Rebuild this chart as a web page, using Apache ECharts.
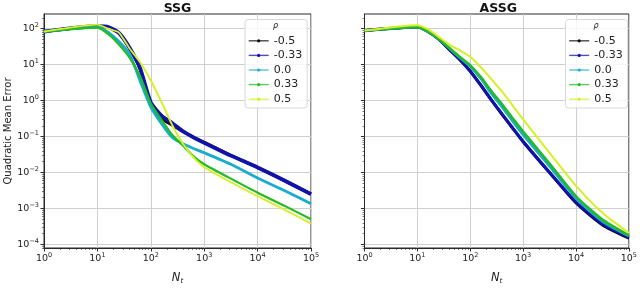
<!DOCTYPE html>
<html>
<head>
<meta charset="utf-8">
<script src="https://cdn.jsdelivr.net/npm/echarts@6/dist/echarts.min.js"></script>
<style>
html,body{margin:0;padding:0;background:#fff;}
#chart{width:640px;height:290px;}
</style>
</head>
<body>
<div id="chart"></div>
<script>
// ---- data ----
const panelTitles = ['SSG', 'ASSG'];
const rhoLabels = ['-0.5', '-0.33', '0.0', '0.33', '0.5'];
const colors = ['#0a0a0a', '#1212aa', '#1aaccc', '#22bb22', '#d6f022'];
const Nt = [1, 10, 16, 25, 40, 63, 100, 160, 250, 400, 630, 1000, 3160, 10000, 31600, 100000];
const xTicks = [1, 10, 100, 1000, 10000, 100000];
const yTicks = [1e-4, 1e-3, 1e-2, 1e-1, 1, 10, 100];

// SSG
const ssg_m050 = [83.2, 117.5, 107, 75.9, 28.2, 7.59, 0.794, 0.316, 0.209, 0.138, 0.0955, 0.0692, 0.0302, 0.0138, 0.00603, 0.00251];
const ssg_m033 = [83.2, 117.5, 112, 77.6, 29.5, 7.94, 0.891, 0.380, 0.240, 0.141, 0.0955, 0.0676, 0.0295, 0.0138, 0.00603, 0.00251];
const ssg_p000 = [83.2, 112, 79.4, 44.7, 20.0, 3.55, 0.661, 0.224, 0.0955, 0.0631, 0.0468, 0.0355, 0.0170, 0.00708, 0.00316, 0.00135];
const ssg_p033 = [83.2, 107, 70.8, 37.2, 15.8, 4.79, 0.832, 0.288, 0.112, 0.0562, 0.0282, 0.0170, 0.00676, 0.00275, 0.00120, 0.000501];
const ssg_p050 = [83.2, 130, 100, 79.4, 28.2, 11.7, 3.63, 0.891, 0.214, 0.0631, 0.0263, 0.0141, 0.00537, 0.00219, 0.000933, 0.000380];

// ASSG
const assg_m050 = [89.1, 112, 83.2, 52.5, 26.9, 14.1, 6.61, 2.63, 1.05, 0.417, 0.174, 0.0724, 0.0100, 0.00141, 0.000347, 0.000148];
const assg_m033 = [89.1, 112, 83.2, 52.5, 26.9, 14.1, 6.61, 2.63, 1.05, 0.417, 0.174, 0.0724, 0.0100, 0.00151, 0.000372, 0.000158];
const assg_p000 = [89.1, 112, 83.2, 53.7, 28.8, 15.8, 8.91, 3.98, 1.58, 0.661, 0.269, 0.112, 0.0148, 0.00191, 0.000437, 0.000170];
const assg_p033 = [89.1, 112, 83.2, 53.7, 29.5, 16.6, 9.55, 4.47, 1.86, 0.794, 0.331, 0.138, 0.0178, 0.00219, 0.000490, 0.000178];
const assg_p050 = [89.1, 126, 95.5, 60.3, 36.3, 25.1, 16.6, 8.32, 3.98, 1.78, 0.741, 0.302, 0.0355, 0.00427, 0.000759, 0.000209];

const panels = [
  [ssg_m050, ssg_m033, ssg_p000, ssg_p033, ssg_p050],
  [assg_m050, assg_m033, assg_p000, assg_p033, assg_p050]
];

// ---- layout / style ----
const FONT = 'DejaVu Sans';
const Y_MIN = 7.96e-5, Y_MAX = 257;
const gridsPos = [{left: 44, top: 14, width: 267, height: 243}, {left: 364.5, top: 14, width: 267.5, height: 243}];
const widths = [[3.0, 3.8, 2.8, 2.2, 1.9], [2.8, 3.2, 2.6, 2.5, 2.0]];
const AX = '#2a2a2a';

function supLabel(v) {
  const e = Math.log10(v);
  const r = Math.round(e);
  if (Math.abs(e - r) > 0.01) return '';
  return '{b|10}{s|' + String(r).replace('-', '\u2212') + '}';
}
const richLab = {
  b: {fontSize: 9.5, fontFamily: FONT, color: '#222', lineHeight: 13},
  s: {fontSize: 6.5, fontFamily: FONT, color: '#222', lineHeight: 8, verticalAlign: 'top'}
};

const grid = gridsPos.map(g => Object.assign({show: true, borderColor: AX, borderWidth: 1, backgroundColor: 'transparent'}, g));

const xAxis = gridsPos.map((g, i) => ({
  type: 'log', logBase: 10, gridIndex: i, min: xTicks[0], max: xTicks[xTicks.length - 1],
  axisLine: {show: true, lineStyle: {color: AX, width: 1}},
  axisTick: {show: true, length: 3.5, inside: false, lineStyle: {color: AX}},
  minorTick: {show: true, splitNumber: 9, length: 2, lineStyle: {color: AX, width: 0.6}},
  splitLine: {show: true, lineStyle: {color: '#cfcfcf', width: 1}},
  axisLabel: {margin: 4, formatter: supLabel, rich: richLab},
  name: '{n|N}{t|t}', nameLocation: 'middle', nameGap: 23,
  nameTextStyle: {rich: {
    n: {fontSize: 11.5, fontStyle: 'italic', fontFamily: FONT, color: '#222', lineHeight: 14},
    t: {fontSize: 7, fontStyle: 'italic', fontFamily: FONT, color: '#222', lineHeight: 6, verticalAlign: 'bottom'}
  }}
}));

const yAxis = gridsPos.map((g, i) => ({
  type: 'log', logBase: 10, gridIndex: i, min: Y_MIN, max: Y_MAX,
  axisLine: {show: true, lineStyle: {color: AX, width: 1}},
  axisTick: {show: true, length: 3.5, inside: false, lineStyle: {color: AX}, customValues: yTicks},
  minorTick: {show: true, splitNumber: 9, length: 2, lineStyle: {color: AX, width: 0.6}},
  splitLine: {show: true, lineStyle: {color: '#cfcfcf', width: 1}},
  axisLabel: {show: i === 0, margin: 5, formatter: supLabel, rich: richLab, customValues: yTicks},
  name: i === 0 ? 'Quadratic Mean Error' : '', nameLocation: 'middle', nameGap: 30,
  nameTextStyle: {fontSize: 10, fontFamily: FONT, color: '#222'}
}));

const series = [];
panels.forEach((vals, p) => {
  vals.forEach((arr, k) => {
    series.push({
      type: 'line', name: rhoLabels[k], xAxisIndex: p, yAxisIndex: p,
      data: Nt.map((n, j) => [n, arr[j]]),
      showSymbol: false, symbol: 'circle', symbolSize: 3, smooth: 0.2,
      color: colors[k],
      lineStyle: {width: widths[p][k], color: colors[k]},
      emphasis: {disabled: true}, animation: false, z: 2 + k
    });
  });
});

const legends = [245, 565.5].map(l => ({
  data: rhoLabels, orient: 'vertical', left: l, top: 19.5,
  padding: [14, 5, 1.5, 3], itemGap: 0, itemWidth: 20, itemHeight: 4,
  backgroundColor: 'rgba(255,255,255,0.8)', borderColor: '#d8d8d8', borderWidth: 1, borderRadius: 3,
  textStyle: {fontSize: 11, fontFamily: FONT, color: '#222', lineHeight: 14.6},
  lineStyle: {width: 1.4, opacity: 0.75}, selectedMode: false
}));

const titles = panelTitles.map((t, i) => ({
  text: t, left: gridsPos[i].left + gridsPos[i].width / 2, top: 2, textAlign: 'center', padding: 0,
  textStyle: {fontSize: 12.5, fontWeight: 'bold', fontFamily: FONT, color: '#111', lineHeight: 13}
}));

const graphic = [245, 565.5].map(l => ({
  type: 'text', left: l + 28, top: 22, z: 100,
  style: {text: '\u03c1', fontSize: 8, fontStyle: 'italic', fontFamily: FONT, fill: '#222'}
}));

const chart = echarts.init(document.getElementById('chart'), null, {renderer: 'canvas'});
chart.setOption({
  animation: false,
  textStyle: {fontFamily: FONT},
  title: titles, grid: grid, xAxis: xAxis, yAxis: yAxis,
  legend: legends, series: series, graphic: graphic
});
</script>
</body>
</html>
